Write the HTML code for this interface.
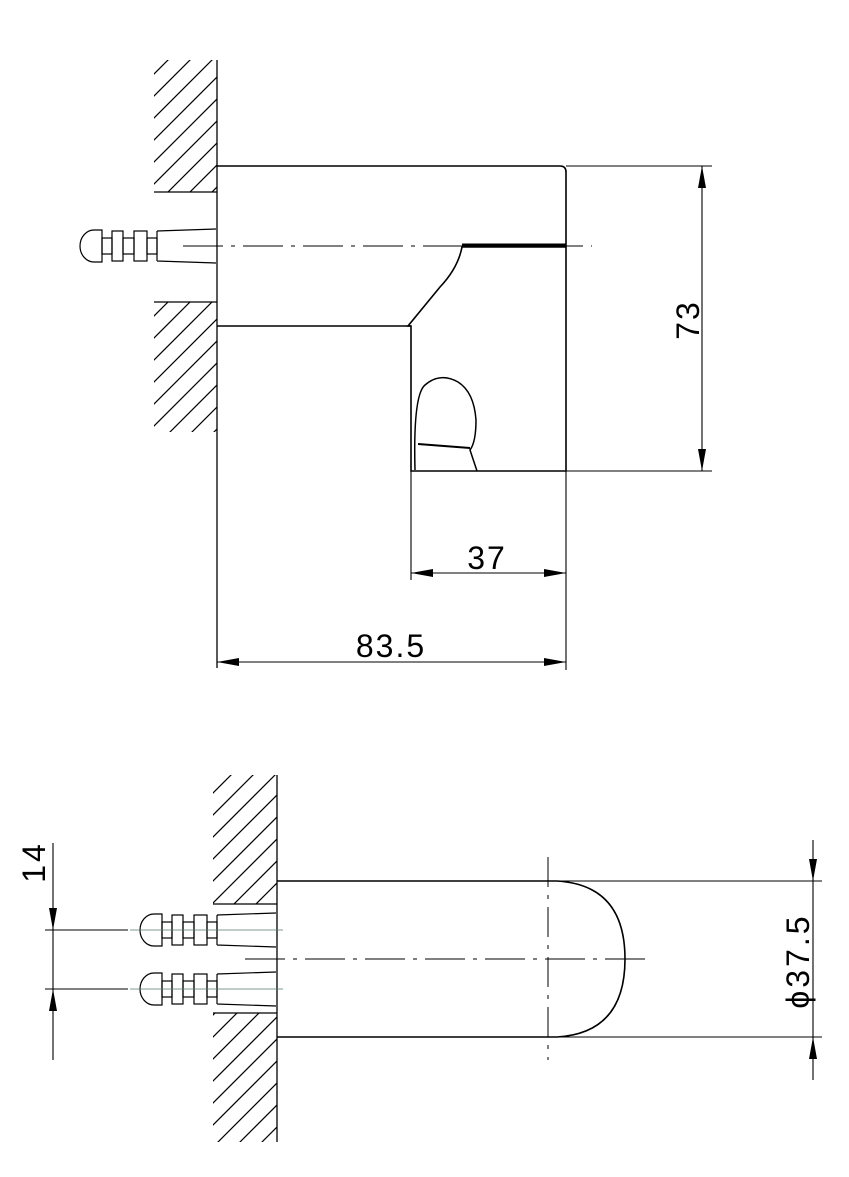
<!DOCTYPE html>
<html><head><meta charset="utf-8"><style>html,body{margin:0;padding:0;background:#fff;width:849px;height:1177px;overflow:hidden}svg{display:block}</style></head><body>
<svg width="849" height="1177" viewBox="0 0 849 1177" xmlns="http://www.w3.org/2000/svg" font-family="Liberation Sans, sans-serif">
<defs>
<clipPath id="h1"><path d="M154 60H217V192H154Z M154 302H217V432H154Z"/></clipPath>
<clipPath id="h2"><path d="M213 775H277V904H213Z M213 1013H277V1142H213Z"/></clipPath>
<g id="anchor" fill="none" stroke="#000" stroke-width="1.2">
  <path d="M22 -16 H14 A14 16 0 0 0 14 16 H22 Z"/>
  <rect x="22" y="-8" width="10" height="16"/>
  <rect x="32" y="-15" width="11" height="30"/>
  <rect x="43" y="-8" width="11" height="16"/>
  <rect x="54" y="-15" width="13" height="30"/>
  <rect x="67" y="-8" width="10" height="16"/>
  <path d="M77 -15 L136 -17 M77 15 L136 17 M77 -15 V15"/>
</g>
</defs>
<g stroke="#000" stroke-width="1.3" fill="none">
<g clip-path="url(#h1)" stroke-width="1.2">
<path d="M100 128L300 -72M100 150L300 -50M100 172L300 -28M100 194L300 -6M100 216L300 16M100 238L300 38M100 260L300 60M100 282L300 82M100 304L300 104M100 326L300 126"/>
<path d="M100 370L300 170M100 392L300 192M100 414L300 214M100 436L300 236M100 458L300 258M100 480L300 280M100 502L300 302M100 524L300 324M100 546L300 346"/>
</g>
<path d="M154 192H217M154 302H217"/>
<path d="M217 60V668"/>
<path d="M217 166H560Q566 166 566 172V471H411V326H217" stroke-width="1.6"/>
<path d="M411 326L408 326L440 287Q458 268 462 247H566" stroke-width="1.6"/>
<path d="M462 245H566" stroke-width="3"/>
<path d="M415 470Q413 395 425 385Q440 372 458 382Q474 392 476 420Q476 442 470 450L477 471" stroke-width="1.5"/>
<path d="M418 444L470 448" stroke-width="2"/>
<path d="M183 246H592" stroke-width="1" stroke-dasharray="40 8 4 8"/>
<use href="#anchor" transform="translate(80,246)"/>
<path d="M566 166H712M566 471H712M702 166V471" stroke-width="1.1"/>
<path d="M411 471V580M566 471V670M411 573H566M217 662H566" stroke-width="1.1"/>
</g>
<g fill="#000">
<path d="M702 166l-4 22h8z M702 471l-4 -22h8z"/>
<path d="M411 573l22 -4v8z M566 573l-22 -4v8z"/>
<path d="M217 662l22 -4v8z M566 662l-22 -4v8z"/>
</g>
<text x="699" y="320" font-size="32" letter-spacing="2" text-anchor="middle" transform="rotate(-90 699 320)">73</text>
<text x="487" y="569" font-size="32" letter-spacing="2" text-anchor="middle">37</text>
<text x="391" y="657" font-size="32" letter-spacing="2" text-anchor="middle">83.5</text>

<g stroke="#000" stroke-width="1.3" fill="none">
<g clip-path="url(#h2)" stroke-width="1.2">
<path d="M150 834L350 634M150 856L350 656M150 878L350 678M150 900L350 700M150 922L350 722M150 944L350 744M150 966L350 766M150 988L350 788M150 1010L350 810M150 1032L350 832"/>
<path d="M150 1078L350 878M150 1100L350 900M150 1122L350 922M150 1144L350 944M150 1166L350 966M150 1188L350 988M150 1210L350 1010M150 1232L350 1032M150 1254L350 1054M150 1276L350 1076"/>
</g>
<path d="M213 904H277M213 1013H277"/>
<path d="M277 775V1142"/>
<path d="M277 881H557Q625 885 625 959Q625 1033 557 1037H277" stroke-width="1.6"/>
<path d="M245 959H652" stroke-width="1" stroke-dasharray="40 8 4 8"/>
<path d="M548 857V1060" stroke-width="1" stroke-dasharray="30 8 4 8"/>
<use href="#anchor" transform="translate(140,930)"/>
<use href="#anchor" transform="translate(140,989)"/>
<path d="M130 930H283M130 989H283" stroke="#5a7a6a" stroke-width="0.8"/>
<path d="M45 930H128M45 989H128M53 843V1060" stroke-width="1.1"/>
<path d="M557 881H822M557 1037H822M813 840V1080" stroke-width="1.1"/>
</g>
<g fill="#000">
<path d="M53 930l-4 -22h8z M53 989l-4 22h8z"/>
<path d="M813 881l-4 -22h8z M813 1037l-4 22h8z"/>
</g>
<text x="45" y="862" font-size="32" letter-spacing="3" text-anchor="middle" transform="rotate(-90 45 862)">14</text>
<text x="809" y="961" font-size="32" letter-spacing="3" text-anchor="middle" transform="rotate(-90 809 961)">ϕ37.5</text>
</svg>
</body></html>
